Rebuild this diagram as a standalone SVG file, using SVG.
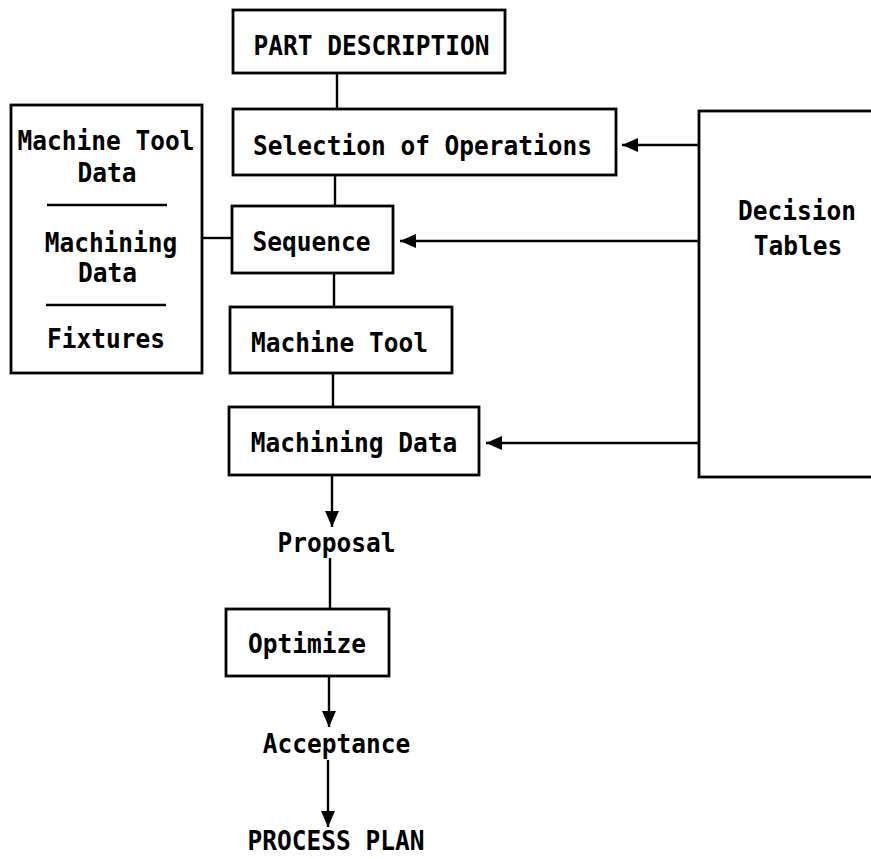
<svg xmlns="http://www.w3.org/2000/svg" width="871" height="859" viewBox="0 0 871 859">
  <defs>
    <style>
      .box { fill: #fff; stroke: #000; stroke-width: 2.8; }
      .rule { stroke: #000; stroke-width: 2.4; fill: none; }
      .wire { stroke: #000; stroke-width: 2.4; fill: none; }
      .lbl { font-family: "DejaVu Sans Mono", "Liberation Mono", monospace; font-weight: bold; font-size: 24.5px; fill: #000; text-anchor: middle; }
    </style>
    <marker id="arrow" markerUnits="userSpaceOnUse" markerWidth="17" markerHeight="14" refX="16" refY="7" orient="auto">
      <path d="M0,0 L16,7 L0,14 Z" fill="#000"/>
    </marker>
  </defs>

  <rect width="871" height="859" fill="#fff"/>

  <!-- connectors -->
  <g id="connectors">
    <line class="wire" x1="337" y1="73" x2="337" y2="109"/>
    <line class="wire" x1="335" y1="175" x2="335" y2="206"/>
    <line class="wire" x1="334" y1="273" x2="334" y2="307"/>
    <line class="wire" x1="333" y1="373" x2="333" y2="407"/>
    <line class="wire" x1="202" y1="238" x2="232" y2="238"/>
    <line class="wire" x1="699" y1="145" x2="622" y2="145" marker-end="url(#arrow)"/>
    <line class="wire" x1="699" y1="241" x2="400" y2="241" marker-end="url(#arrow)"/>
    <line class="wire" x1="699" y1="443" x2="486" y2="443" marker-end="url(#arrow)"/>
    <line class="wire" x1="332" y1="475" x2="332" y2="527" marker-end="url(#arrow)"/>
    <line class="wire" x1="330" y1="558" x2="330" y2="609"/>
    <line class="wire" x1="329" y1="676" x2="329" y2="727" marker-end="url(#arrow)"/>
    <line class="wire" x1="328" y1="760" x2="328" y2="827" marker-end="url(#arrow)"/>
  </g>

  <g id="part-description">
    <rect class="box" x="233" y="10" width="272" height="63"/>
    <g transform="translate(371.5,55) scale(1,1.1)"><text class="lbl">PART DESCRIPTION</text></g>
  </g>

  <g id="selection-of-operations">
    <rect class="box" x="233" y="109" width="383" height="66"/>
    <g transform="translate(422.5,155) scale(1,1.1)"><text class="lbl">Selection of Operations</text></g>
  </g>

  <g id="sequence">
    <rect class="box" x="232" y="206" width="161" height="67"/>
    <g transform="translate(311.5,251) scale(1,1.1)"><text class="lbl">Sequence</text></g>
  </g>

  <g id="machine-tool">
    <rect class="box" x="230" y="307" width="222" height="66"/>
    <g transform="translate(339.5,352) scale(1,1.1)"><text class="lbl">Machine Tool</text></g>
  </g>

  <g id="machining-data">
    <rect class="box" x="229" y="407" width="250" height="68"/>
    <g transform="translate(354,452) scale(1,1.1)"><text class="lbl">Machining Data</text></g>
  </g>

  <g id="data-files">
    <rect class="box" x="11" y="105" width="191" height="268"/>
    <g transform="translate(106,150) scale(1,1.1)"><text class="lbl">Machine Tool</text></g>
    <g transform="translate(107,182) scale(1,1.1)"><text class="lbl">Data</text></g>
    <line class="rule" x1="47" y1="205" x2="167" y2="205"/>
    <g transform="translate(111,252) scale(1,1.1)"><text class="lbl">Machining</text></g>
    <g transform="translate(107.5,282) scale(1,1.1)"><text class="lbl">Data</text></g>
    <line class="rule" x1="46" y1="305" x2="166" y2="305"/>
    <g transform="translate(106,348) scale(1,1.1)"><text class="lbl">Fixtures</text></g>
  </g>

  <g id="decision-tables">
    <rect class="box" x="699" y="111" width="190" height="366"/>
    <g transform="translate(797,220) scale(1,1.1)"><text class="lbl">Decision</text></g>
    <g transform="translate(798,255) scale(1,1.1)"><text class="lbl">Tables</text></g>
  </g>

  <g id="proposal">
    <g transform="translate(336.5,552) scale(1,1.1)"><text class="lbl">Proposal</text></g>
  </g>

  <g id="optimize">
    <rect class="box" x="226" y="609" width="163" height="67"/>
    <g transform="translate(307,653) scale(1,1.1)"><text class="lbl">Optimize</text></g>
  </g>

  <g id="acceptance">
    <g transform="translate(336.5,753) scale(1,1.1)"><text class="lbl">Acceptance</text></g>
  </g>

  <g id="process-plan">
    <g transform="translate(336,850) scale(1,1.1)"><text class="lbl">PROCESS PLAN</text></g>
  </g>
</svg>
